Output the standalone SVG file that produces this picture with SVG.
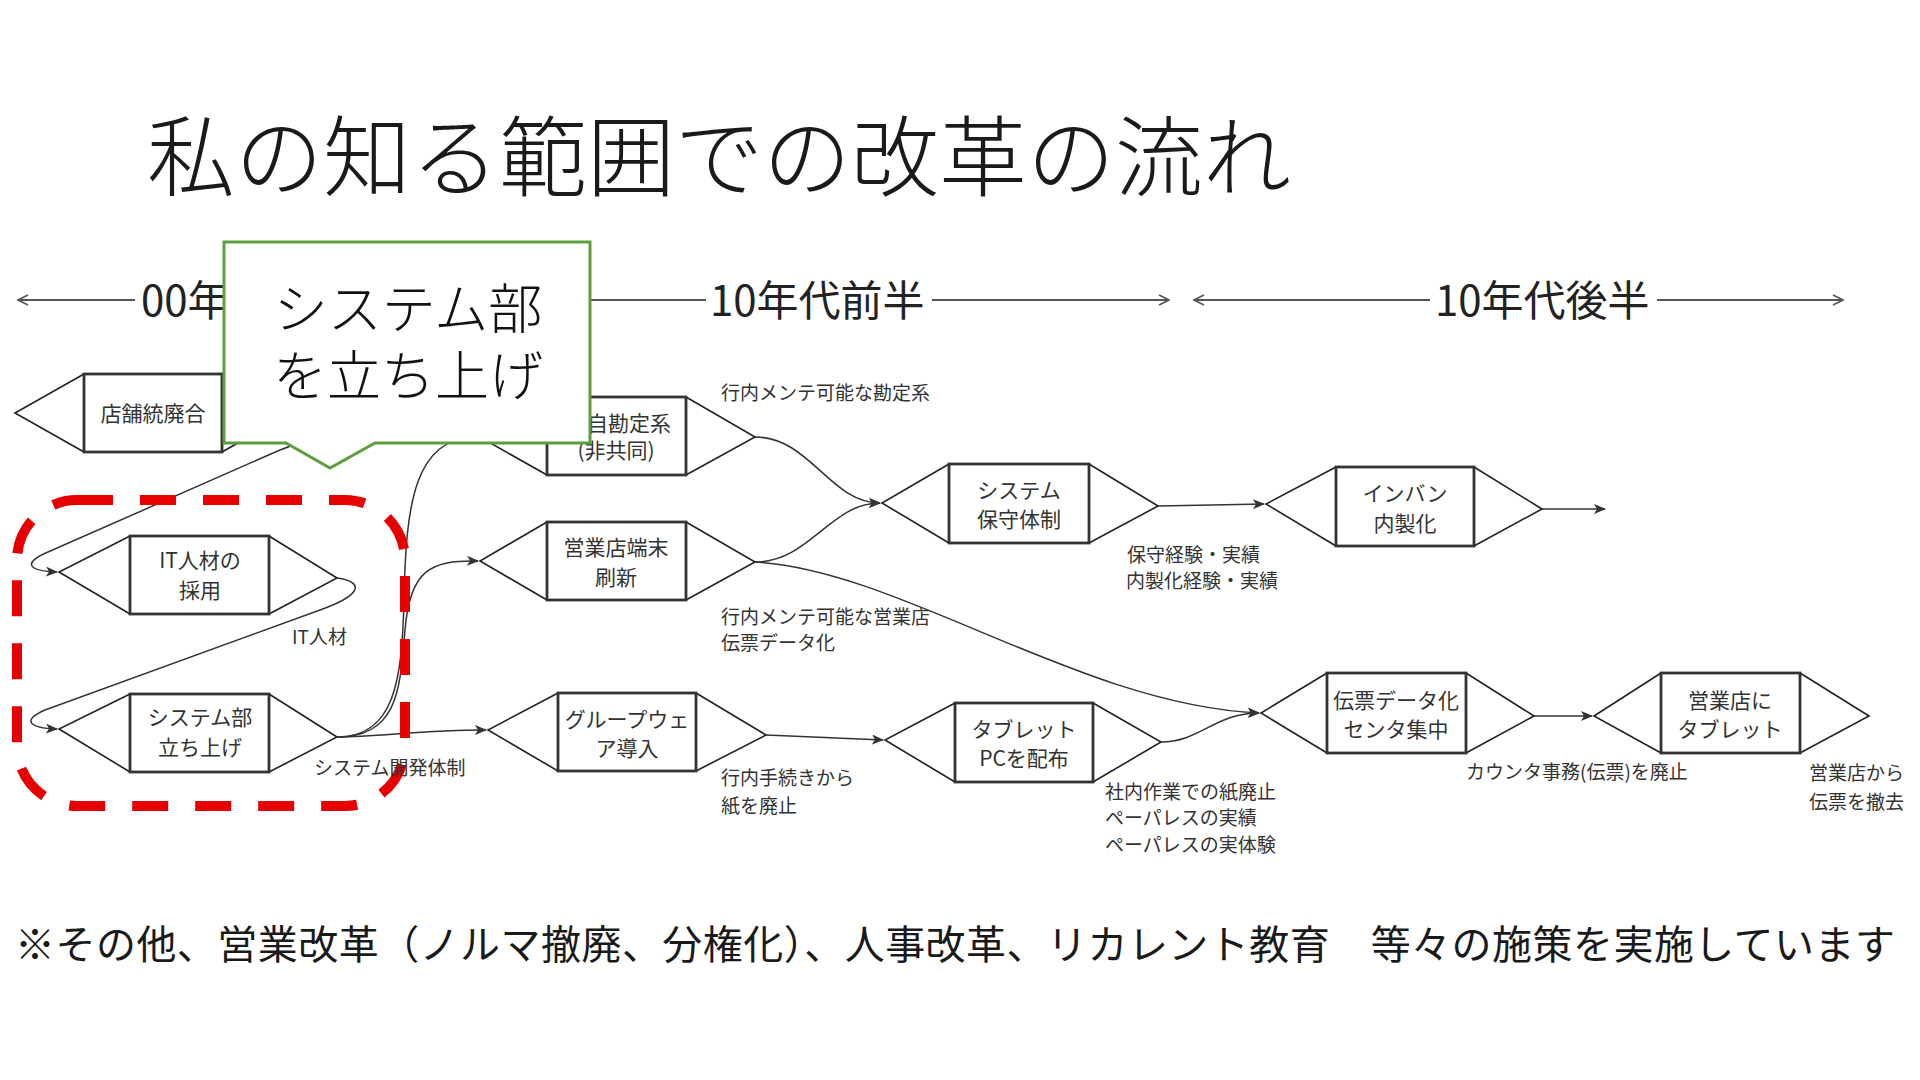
<svg xmlns="http://www.w3.org/2000/svg" width="1920" height="1080" viewBox="0 0 1920 1080">
<defs>
<marker id="arr" viewBox="0 0 12 10" refX="11" refY="5" markerWidth="12" markerHeight="10" markerUnits="userSpaceOnUse" orient="auto">
<path d="M0,0 L12,5 L0,10 L3,5 Z" fill="#333"/>
</marker>
<marker id="open" viewBox="0 0 12 12" refX="11" refY="6" markerWidth="12" markerHeight="12" markerUnits="userSpaceOnUse" orient="auto">
<path d="M1,1 L11,6 L1,11" fill="none" stroke="#555" stroke-width="1.6"/>
</marker>
<marker id="openStart" viewBox="0 0 12 12" refX="1" refY="6" markerWidth="12" markerHeight="12" markerUnits="userSpaceOnUse" orient="auto">
<path d="M11,1 L1,6 L11,11" fill="none" stroke="#555" stroke-width="1.6"/>
</marker>
</defs>
<style>
text{font-family:"Noto Sans CJK JP","Noto Sans",sans-serif;}
.title{font-size:88px;font-weight:300;fill:#1a1a1a;}
.era{font-size:42px;fill:#222;}
.tl{stroke:#555;stroke-width:2;fill:none;}
.tri{stroke:#222;stroke-width:1.6;fill:none;}
.box{stroke:#333;stroke-width:2.8;fill:#fff;}
.nt{font-size:21px;fill:#333;text-anchor:middle;}
.lb{font-size:19px;fill:#333;}
.con{stroke:#333;stroke-width:1.5;fill:none;}
.foot{font-size:40px;fill:#1a1a1a;}
.call{font-size:54px;font-weight:300;fill:#111;text-anchor:middle;}
</style>
<rect width="1920" height="1080" fill="#fff"/>

<text class="title" x="147" y="189">私の知る範囲での改革の流れ</text>

<g id="timeline">
<line class="tl" x1="18" y1="300" x2="135" y2="300" marker-start="url(#openStart)"/>
<text class="era" x="141" y="316">00年</text>
<line class="tl" x1="300" y1="300" x2="706" y2="300"/>
<text class="era" x="710" y="316">10年代前半</text>
<line class="tl" x1="932" y1="300" x2="1169" y2="300" marker-end="url(#open)"/>
<line class="tl" x1="1194" y1="300" x2="1430" y2="300" marker-start="url(#openStart)"/>
<text class="era" x="1435" y="316">10年代後半</text>
<line class="tl" x1="1657" y1="300" x2="1843" y2="300" marker-end="url(#open)"/>
</g>

<g id="node-tenpo">
<path class="tri" d="M84,374 L15,413 L84,452 M222,374 L291,413 L222,452"/>
<rect class="box" x="84" y="374" width="138" height="78"/>
<text class="nt" x="153" y="421">店舗統廃合</text>
</g>
<g id="node-kanjo">
<path class="tri" d="M547,397 L478,436 L547,475 M686,397 L755,437 L686,475"/>
<rect class="box" x="547" y="397" width="139" height="78"/>
<text class="nt" x="587" y="431" style="text-anchor:start">自勘定系</text>
<text class="nt" x="616" y="458">(非共同)</text>
</g>
<g id="node-tanmatsu">
<path class="tri" d="M547,522 L480,561 L547,600 M686,522 L755,562 L686,600"/>
<rect class="box" x="547" y="522" width="139" height="78"/>
<text class="nt" x="616" y="555">営業店端末</text>
<text class="nt" x="616" y="585">刷新</text>
</g>
<g id="node-hoshu">
<path class="tri" d="M949,464 L882,503 L949,543 M1089,464 L1158,506 L1089,543"/>
<rect class="box" x="949" y="464" width="140" height="79"/>
<text class="nt" x="1019" y="498">システム</text>
<text class="nt" x="1019" y="527">保守体制</text>
</g>
<g id="node-inban">
<path class="tri" d="M1336,467 L1266,504 L1336,546 M1474,467 L1542,509 L1474,546"/>
<rect class="box" x="1336" y="467" width="138" height="79"/>
<text class="nt" x="1405" y="501">インバン</text>
<text class="nt" x="1405" y="531">内製化</text>
</g>
<g id="node-itjinzai">
<path class="tri" d="M130,536 L59,572 L130,614 M269,536 L337,578 L269,614"/>
<rect class="box" x="130" y="536" width="139" height="78"/>
<text class="nt" x="200" y="568">IT人材の</text>
<text class="nt" x="200" y="598">採用</text>
</g>
<g id="node-systembu">
<path class="tri" d="M130,694 L59,729 L130,772 M269,694 L337,737 L269,772"/>
<rect class="box" x="130" y="694" width="139" height="78"/>
<text class="nt" x="200" y="725">システム部</text>
<text class="nt" x="200" y="755">立ち上げ</text>
</g>
<g id="node-groupware">
<path class="tri" d="M558,693 L488,730 L558,771 M696,693 L766,735 L696,771"/>
<rect class="box" x="558" y="693" width="138" height="78"/>
<text class="nt" x="627" y="727">グループウェ</text>
<text class="nt" x="627" y="756">ア導入</text>
</g>
<g id="node-tablet">
<path class="tri" d="M955,703 L885,740 L955,782 M1093,703 L1161,742 L1093,782"/>
<rect class="box" x="955" y="703" width="138" height="79"/>
<text class="nt" x="1024" y="737">タブレット</text>
<text class="nt" x="1024" y="766">PCを配布</text>
</g>
<g id="node-denpyo">
<path class="tri" d="M1327,673 L1261,713 L1327,753 M1466,673 L1534,716 L1466,753"/>
<rect class="box" x="1327" y="673" width="139" height="80"/>
<text class="nt" x="1396" y="708">伝票データ化</text>
<text class="nt" x="1396" y="737">センタ集中</text>
</g>
<g id="node-eigyoten">
<path class="tri" d="M1661,673 L1594,716 L1661,753 M1800,673 L1869,716 L1800,753"/>
<rect class="box" x="1661" y="673" width="139" height="80"/>
<text class="nt" x="1730" y="708">営業店に</text>
<text class="nt" x="1730" y="737">タブレット</text>
</g>

<g id="connectors">
<path class="con" d="M291,413 C320,420 310,440 280,450 L48,552 C22,563 28,571 57,572" marker-end="url(#arr)"/>
<path class="con" d="M337,578 C365,582 362,595 320,610 L45,710 C22,720 28,728 57,729" marker-end="url(#arr)"/>
<path class="con" d="M337,737 C395,737 402,680 404,600 C406,500 415,440 476,436" marker-end="url(#arr)"/>
<path class="con" d="M337,737 C398,737 400,690 405,630 C410,570 430,560 478,561" marker-end="url(#arr)"/>
<path class="con" d="M337,737 C380,737 420,730 486,730" marker-end="url(#arr)"/>
<path class="con" d="M755,437 C810,437 830,503 880,503" marker-end="url(#arr)"/>
<path class="con" d="M755,562 C810,562 830,503 880,503" marker-end="url(#arr)"/>
<path class="con" d="M755,562 C900,570 1080,705 1259,713" marker-end="url(#arr)"/>
<path class="con" d="M1158,506 L1264,504" marker-end="url(#arr)"/>
<path class="con" d="M1542,509 L1605,509" marker-end="url(#arr)"/>
<path class="con" d="M766,735 L883,740" marker-end="url(#arr)"/>
<path class="con" d="M1161,742 C1200,742 1215,713 1259,713" marker-end="url(#arr)"/>
<path class="con" d="M1534,716 L1592,716" marker-end="url(#arr)"/>
</g>

<g id="highlight">
<rect x="17" y="500" width="388" height="306" rx="60" ry="60" fill="none" stroke="#e60000" stroke-width="10" stroke-dasharray="36 27"/>
</g>

<g id="labels">
<text class="lb" x="292" y="644">IT人材</text>
<text class="lb" x="314" y="775">システム開発体制</text>
<text class="lb" x="721" y="400">行内メンテ可能な勘定系</text>
<text class="lb" x="721" y="624">行内メンテ可能な営業店</text>
<text class="lb" x="721" y="650">伝票データ化</text>
<text class="lb" x="721" y="785">行内手続きから</text>
<text class="lb" x="721" y="813">紙を廃止</text>
<text class="lb" x="1127" y="562">保守経験・実績</text>
<text class="lb" x="1126" y="588">内製化経験・実績</text>
<text class="lb" x="1105" y="799">社内作業での紙廃止</text>
<text class="lb" x="1105" y="825">ペーパレスの実績</text>
<text class="lb" x="1105" y="852">ペーパレスの実体験</text>
<text class="lb" x="1466" y="779">カウンタ事務(伝票)を廃止</text>
<text class="lb" x="1809" y="780">営業店から</text>
<text class="lb" x="1809" y="809">伝票を撤去</text>
</g>

<g id="callout">
<path d="M224,242 H590 V443 H375 L330,468 L286,443 H224 Z" fill="#fff" stroke="#5e9e3e" stroke-width="3"/>
<text class="call"><tspan x="408" y="329">システム部</tspan><tspan x="408" y="396">を立ち上げ</tspan></text>
</g>

<text class="foot" x="15" y="959" textLength="1880" lengthAdjust="spacing">※その他、営業改革（ノルマ撤廃、分権化）、人事改革、リカレント教育　等々の施策を実施しています</text>
</svg>
